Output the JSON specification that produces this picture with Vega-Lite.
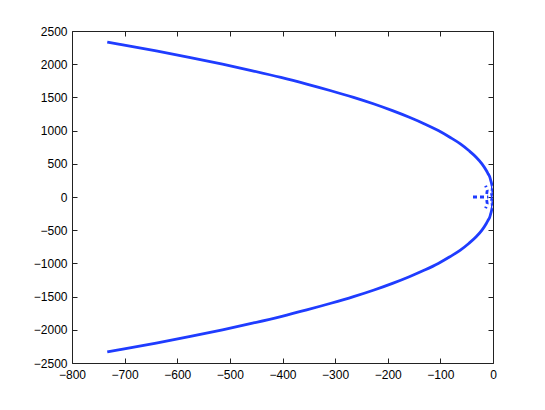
{
  "$schema": "https://vega.github.io/schema/vega-lite/v6.json",
  "autosize": "none",
  "padding": {"left": 72, "top": 31, "right": 52, "bottom": 47},
  "width": 421,
  "height": 332,
  "background": "white",
  "config": {
    "view": {"stroke": "#222", "strokeWidth": 1},
    "axis": {
      "labelFont": "Liberation Sans",
      "labelFontSize": 12,
      "labelColor": "#000",
      "labelFlush": false,
      "labelOverlap": false,
      "labelExpr": "replace(datum.label, '-', '\u2212')",
      "domain": false,
      "grid": false,
      "tickColor": "#222",
      "tickSize": -5,
      "title": null,
      "format": "d"
    }
  },
  "datasets": {
    "main": [
      {"i": 0, "x": -733, "y": 2334},
      {"i": 1, "x": -709, "y": 2300},
      {"i": 2, "x": -640, "y": 2200},
      {"i": 3, "x": -575, "y": 2100},
      {"i": 4, "x": -514, "y": 2000},
      {"i": 5, "x": -457, "y": 1900},
      {"i": 6, "x": -403, "y": 1800},
      {"i": 7, "x": -354, "y": 1700},
      {"i": 8, "x": -308, "y": 1600},
      {"i": 9, "x": -265, "y": 1500},
      {"i": 10, "x": -226, "y": 1400},
      {"i": 11, "x": -191, "y": 1300},
      {"i": 12, "x": -159, "y": 1200},
      {"i": 13, "x": -130, "y": 1100},
      {"i": 14, "x": -104, "y": 1000},
      {"i": 15, "x": -82, "y": 900},
      {"i": 16, "x": -62, "y": 800},
      {"i": 17, "x": -46, "y": 700},
      {"i": 18, "x": -32, "y": 600},
      {"i": 19, "x": -21, "y": 500},
      {"i": 20, "x": -12.7, "y": 400},
      {"i": 21, "x": -9.3, "y": 350},
      {"i": 22, "x": -6, "y": 300},
      {"i": 23, "x": -4.3, "y": 250},
      {"i": 24, "x": -2.6, "y": 200},
      {"i": 25, "x": -1.3, "y": 150},
      {"i": 26, "x": -1.5, "y": 110},
      {"i": 27, "x": -3, "y": 75},
      {"i": 28, "x": -2.5, "y": 40},
      {"i": 29, "x": -0.8, "y": 0},
      {"i": 30, "x": -2.5, "y": -40},
      {"i": 31, "x": -3, "y": -75},
      {"i": 32, "x": -1.5, "y": -110},
      {"i": 33, "x": -1.3, "y": -150},
      {"i": 34, "x": -2.6, "y": -200},
      {"i": 35, "x": -4.3, "y": -250},
      {"i": 36, "x": -6, "y": -300},
      {"i": 37, "x": -9.3, "y": -350},
      {"i": 38, "x": -12.7, "y": -400},
      {"i": 39, "x": -21, "y": -500},
      {"i": 40, "x": -32, "y": -600},
      {"i": 41, "x": -46, "y": -700},
      {"i": 42, "x": -62, "y": -800},
      {"i": 43, "x": -82, "y": -900},
      {"i": 44, "x": -104, "y": -1000},
      {"i": 45, "x": -130, "y": -1100},
      {"i": 46, "x": -159, "y": -1200},
      {"i": 47, "x": -191, "y": -1300},
      {"i": 48, "x": -226, "y": -1400},
      {"i": 49, "x": -265, "y": -1500},
      {"i": 50, "x": -308, "y": -1600},
      {"i": 51, "x": -354, "y": -1700},
      {"i": 52, "x": -403, "y": -1800},
      {"i": 53, "x": -457, "y": -1900},
      {"i": 54, "x": -514, "y": -2000},
      {"i": 55, "x": -575, "y": -2100},
      {"i": 56, "x": -640, "y": -2200},
      {"i": 57, "x": -709, "y": -2300},
      {"i": 58, "x": -733, "y": -2334}
    ],
    "branch": [
      {"seg": "h", "i": 0, "x": -38, "y": 0},
      {"seg": "h", "i": 1, "x": -9, "y": 0},
      {"seg": "u", "i": 0, "x": -12, "y": 45},
      {"seg": "u", "i": 1, "x": -11, "y": 100},
      {"seg": "u", "i": 2, "x": -14, "y": 170},
      {"seg": "l", "i": 0, "x": -12, "y": -45},
      {"seg": "l", "i": 1, "x": -11, "y": -100},
      {"seg": "l", "i": 2, "x": -14, "y": -170}
    ]
  },
  "layer": [
    {
      "data": {"name": "main"},
      "mark": {"type": "line", "color": "#1f3cff", "strokeWidth": 2.8, "clip": true, "interpolate": "monotone"},
      "encoding": {
        "x": {"field": "x", "type": "quantitative", "scale": {"domain": [-800, 0], "nice": false, "zero": false},
              "axis": {"orient": "bottom", "values": [-800, -700, -600, -500, -400, -300, -200, -100, 0], "labelPadding": 11}},
        "y": {"field": "y", "type": "quantitative", "scale": {"domain": [-2500, 2500], "nice": false},
              "axis": {"orient": "left", "values": [-2500, -2000, -1500, -1000, -500, 0, 500, 1000, 1500, 2000, 2500], "labelPadding": 10}},
        "order": {"field": "i", "type": "quantitative"}
      }
    },
    {
      "data": {"name": "branch"},
      "mark": {"type": "line", "color": "#1f3cff", "strokeWidth": 2.8, "strokeDash": [4, 3], "clip": true},
      "encoding": {
        "x": {"field": "x", "type": "quantitative",
              "axis": {"orient": "top", "values": [-800, -700, -600, -500, -400, -300, -200, -100, 0], "labels": false}},
        "y": {"field": "y", "type": "quantitative",
              "axis": {"orient": "right", "values": [-2500, -2000, -1500, -1000, -500, 0, 500, 1000, 1500, 2000, 2500], "labels": false}},
        "detail": {"field": "seg", "type": "nominal"},
        "order": {"field": "i", "type": "quantitative"}
      }
    }
  ],
  "resolve": {"axis": {"x": "independent", "y": "independent"}}
}
